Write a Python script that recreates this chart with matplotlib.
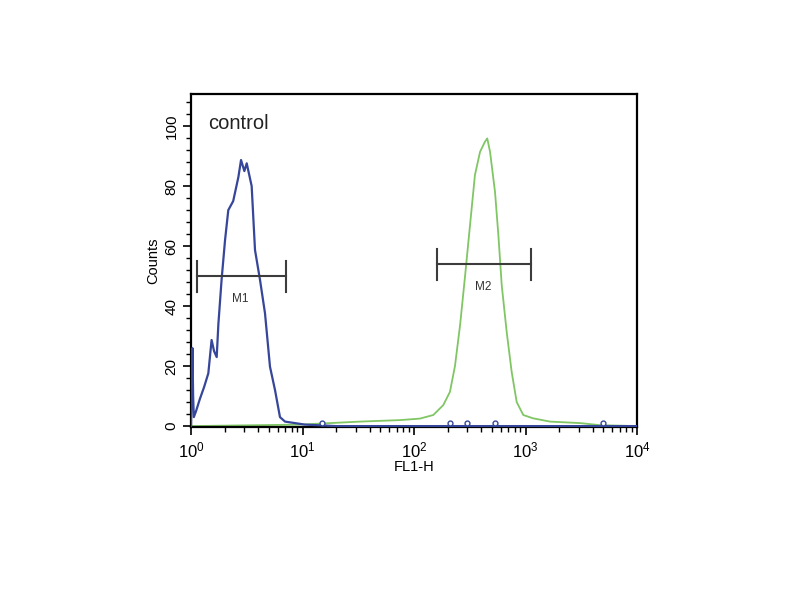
import matplotlib
matplotlib.use("Agg")
import matplotlib.pyplot as plt
from matplotlib.ticker import MultipleLocator, LogLocator, NullFormatter

plt.rcParams['font.family'] = ['Liberation Sans', 'DejaVu Sans']
plt.rcParams['mathtext.default'] = 'regular'

# Blue histogram (control, M1 population): FL1-H value, counts
blue_x = [1.00, 1.03, 1.045, 1.06, 1.11, 1.20, 1.31, 1.43, 1.53, 1.61, 1.70, 1.76, 1.88,
          2.02, 2.16, 2.39, 2.66, 2.81, 3.01, 3.16, 3.50, 3.75, 4.16, 4.61, 5.11,
          5.67, 6.28, 6.97, 8.57, 10.5, 20.0, 100.0, 1000.0, 10000.0]
blue_y = [0, 26, 10, 3, 5, 9, 13, 17.6, 28.7, 25, 23, 34, 48.7,
          62, 72, 75, 83, 88.7, 85, 87.6, 80, 58.7, 48.7, 37.6, 19.8,
          12, 3, 1.5, 1, 0.5, 0, 0, 0, 0]

# Green histogram (M2 population)
green_x = [1.0, 9.5, 17.6, 32.8, 74.9, 113, 149, 183, 210, 233, 259, 287, 318,
           352, 391, 433, 454, 481, 533, 571, 612, 678, 752, 834, 955, 1167,
           1660, 3090, 4680, 10000]
green_y = [0, 0.5, 1, 1.5, 2, 2.5, 3.7, 7, 11.4, 20, 33.7, 50, 67,
           83.7, 91.4, 94.8, 95.9, 91.4, 78, 63.7, 47, 31.4, 18, 8, 3.7, 2.6,
           1.5, 1, 0.3, 0]

# small blue event markers near baseline
blue_evt_x = [15, 210, 298, 530, 4930]
blue_evt_y = [1, 1, 1, 1, 1]

# Markers (gates)
m1_range = [1.13, 7.1]
m1_level = 50
m2_range = [162, 1120]
m2_level = 54

fig = plt.figure(figsize=(8, 6), dpi=100)
ax = fig.add_axes([191/800, 1-427/600, (637-191)/800, (427-94)/600])

ax.plot(green_x, green_y, color='#80c664', lw=1.3, zorder=2)
ax.plot(blue_x, blue_y, color='#36469a', lw=1.6, zorder=3)
ax.plot(blue_evt_x, blue_evt_y, 'o', mfc='white', mec='#36469a', ms=3.5, mew=1, zorder=4)

for rng, lvl, lab in [(m1_range, m1_level, 'M1'), (m2_range, m2_level, 'M2')]:
    ax.plot(rng, [lvl, lvl], color='#3c3c3c', lw=1.5, zorder=5)
    for xv in rng:
        ax.plot([xv, xv], [lvl - 5.2, lvl + 5.2], color='#3c3c3c', lw=1.5, zorder=5)
    xm = (rng[0] * rng[1]) ** 0.5
    ax.text(xm * 0.97, lvl - 5.5, lab, ha='center', va='top', fontsize=8.5, color='#333333')

ax.text(1.42, 104, 'control', fontsize=14.5, color='#222222', va='top', ha='left')

ax.set_xscale('log')
ax.set_xlim(1, 10000)
ax.set_ylim(-0.3, 110.7)

ax.yaxis.set_major_locator(MultipleLocator(20))
ax.yaxis.set_minor_locator(MultipleLocator(4))
ax.xaxis.set_major_locator(LogLocator(base=10, numticks=10))
ax.xaxis.set_minor_locator(LogLocator(base=10, subs=range(2, 10), numticks=20))
ax.xaxis.set_minor_formatter(NullFormatter())

ax.tick_params(axis='both', which='major', direction='out', length=6, width=1.2, labelsize=12)
ax.tick_params(axis='both', which='minor', direction='out', length=3.5, width=1.0)
ax.tick_params(axis='y', labelsize=11, pad=3)
for lbl in ax.get_yticklabels():
    lbl.set_rotation(90)
    lbl.set_va('center')

for s in ax.spines.values():
    s.set_linewidth(1.6)
    s.set_color('black')

ax.set_ylabel('Counts', fontsize=10.5, labelpad=3)
ax.set_xlabel('FL1-H', fontsize=10.5, labelpad=0)

fig.savefig('out.png', dpi=100)
